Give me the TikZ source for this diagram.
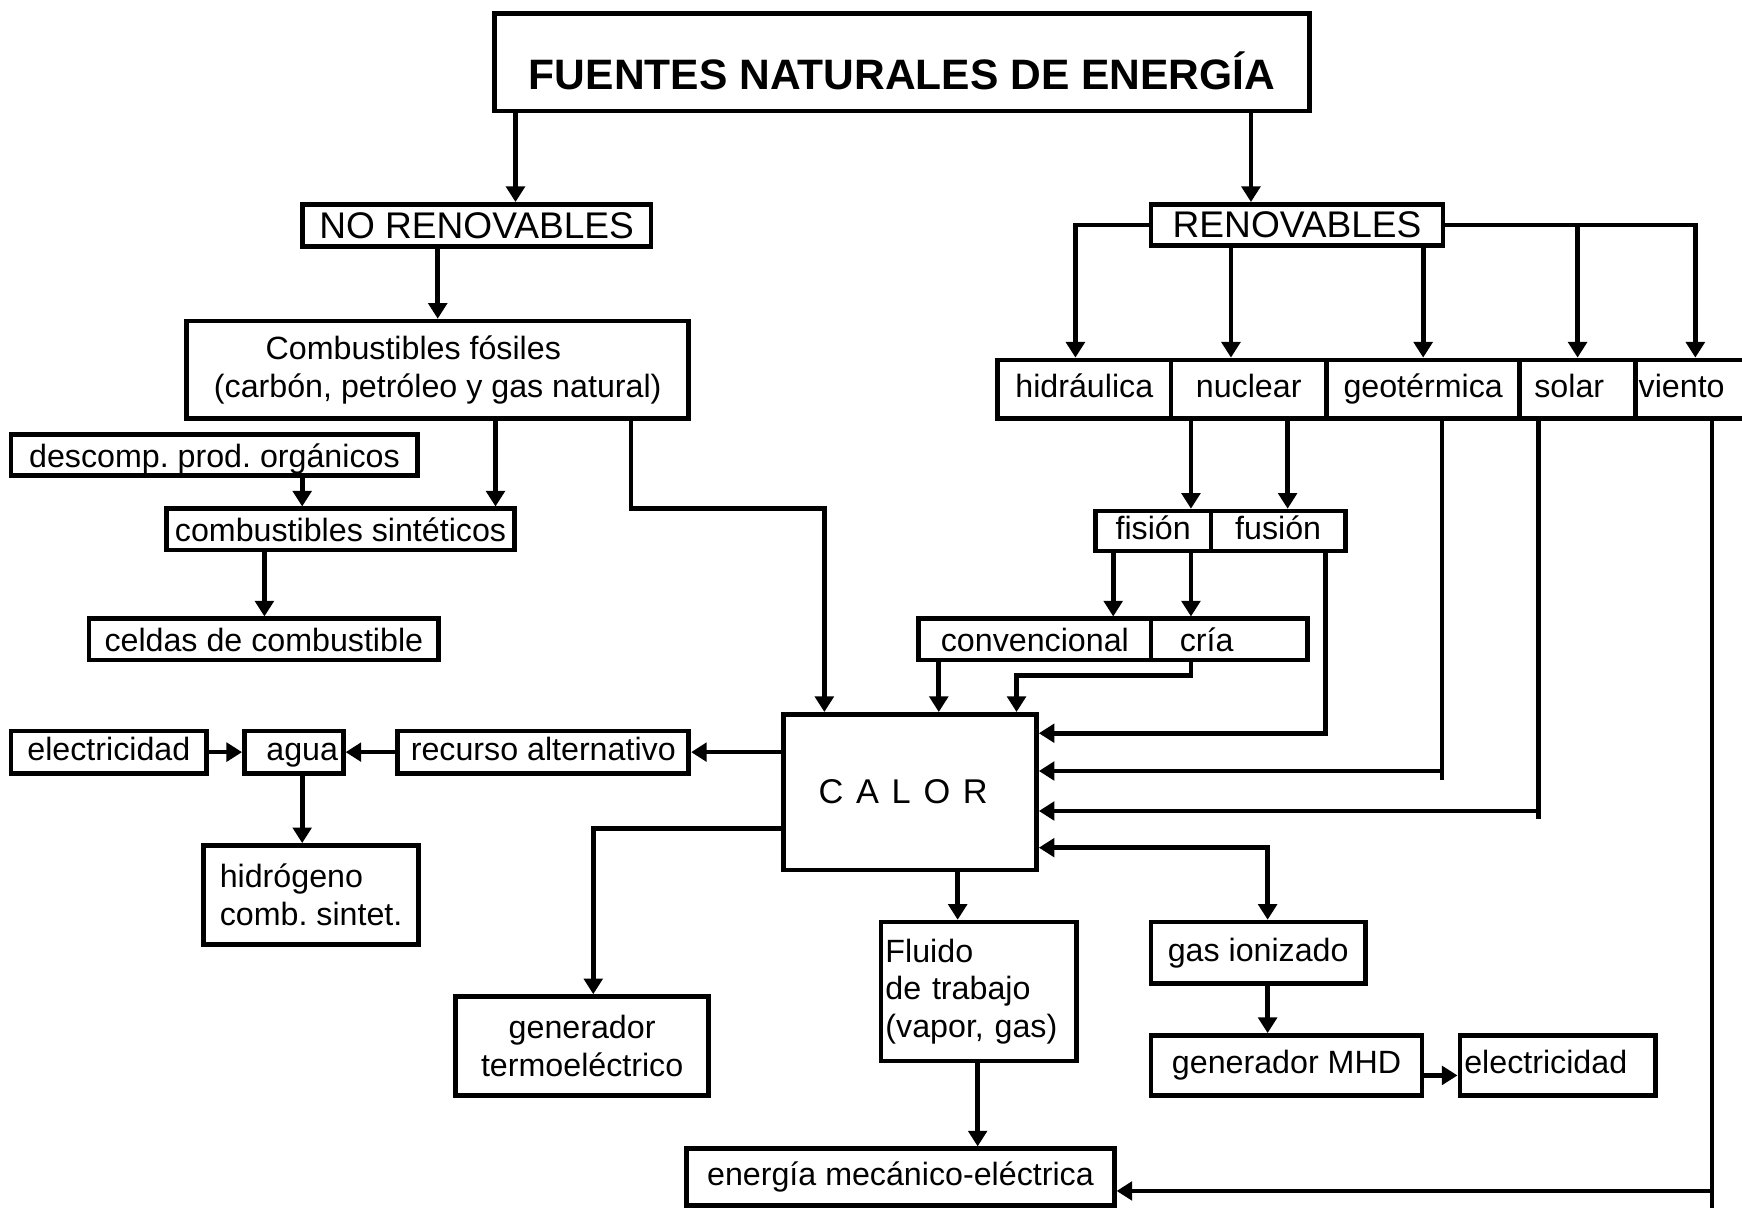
\documentclass[tikz,border=0pt]{standalone}
\usepackage{fontspec}
\setmainfont{Liberation Sans}
\usetikzlibrary{arrows.meta}
\frenchspacing

\newcommand{\txt}{\fontsize{16.5}{19.3}\selectfont}
\newcommand{\bigtxt}{\fontsize{19}{22}\selectfont}

\tikzset{
  box/.style={draw, line width=2.4pt, inner sep=0pt, font=\txt},
  sbox/.style={box, text height=11.9pt, text depth=3.3pt},
  lowbox/.style={box, text height=14pt, text depth=1.2pt},
  lbox/.style={box, align=left},
  arr/.style={line width=2.4pt, -{Triangle[length=8pt,width=9.5pt]}},
  darr/.style={line width=2.4pt, {Triangle[length=8pt,width=9.5pt]}-{Triangle[length=8pt,width=9.5pt]}},
}

\begin{document}
\begin{tikzpicture}[x=0.02cm, y=-0.02cm]
  \useasboundingbox (0,0) rectangle (1568,1087);

  \node[box, minimum width=14.68cm, minimum height=1.76cm, text height=1.05cm, text depth=.05cm, font=\fontsize{21.8}{24}\selectfont\bfseries] at (812,56) (fuentes) {FUENTES NATURALES DE ENERGÍA};

  \node[box, minimum width=6.28cm, minimum height=.76cm, font=\bigtxt] at (429,203) (norenov) {NO RENOVABLES};
  \node[box, minimum width=5.26cm, minimum height=.74cm, font=\bigtxt] at (1167.5,202.5) (renov) {RENOVABLES};
  \draw[arr] (fuentes.south -| 464,0) -- (norenov.north -| 464,0);
  \draw[arr] (fuentes.south -| 1126,0) -- (renov.north -| 1126,0);

  % no renovables
  \node[box, minimum width=9.04cm, minimum height=1.76cm, align=center] at (394,333) (fosiles) {Combustibles fósiles\hspace*{.88cm}\\(carbón, petróleo y gas natural)};
  \node[lowbox, minimum width=7.32cm, minimum height=.74cm] at (193,409.5) (descomp) {descomp. prod. orgánicos};
  \node[lowbox, minimum width=6.26cm, minimum height=.74cm] at (306.5,476.5) (sintet) {combustibles sintéticos};
  \node[lowbox, minimum width=6.3cm, minimum height=.74cm] at (237.5,575.5) (celdas) {celdas de combustible};
  \draw[arr] (norenov.south -| 394,0) -- (fosiles.north -| 394,0);
  \draw[arr] (fosiles.south -| 446,0) -- (sintet.north -| 446,0);
  \draw[arr] (descomp.south -| 272,0) -- (sintet.north -| 272,0);
  \draw[arr] (sintet.south -| 238,0) -- (celdas.north -| 238,0);

  \node[sbox, minimum width=3.52cm, minimum height=.76cm] at (98,677) (elec1) {electricidad};
  \node[sbox, minimum width=1.78cm, minimum height=.76cm] at (264.5,677) (agua) {\hspace*{.3cm}agua};
  \node[sbox, minimum width=5.24cm, minimum height=.76cm] at (489,677) (recurso) {recurso alternativo};
  \node[lbox, minimum width=3.88cm, minimum height=1.78cm] at (280,805.5) (hidrog) {hidrógeno\\comb. sintet.};
  \draw[arr] (elec1.east) -- (agua.west);
  \draw[arr] (recurso.west) -- (agua.east);
  \draw[arr] (agua.south -| 272,0) -- (hidrog.north -| 272,0);

  % calor
  \node[box, minimum width=4.56cm, minimum height=2.8cm, font=\fontsize{17.6}{20}\selectfont] at (819,713) (calor) {C\hspace{.37em}A\hspace{.37em}L\hspace{.37em}O\hspace{.37em}R\hspace*{.24cm}};
  \draw[arr] (fosiles.south -| 568,0) |- (742,458) -- (calor.north -| 742,0);
  \draw[arr] (calor.west |- recurso.east) -- (recurso.east);

  \node[box, minimum width=4.56cm, minimum height=1.78cm, align=center] at (524,941.5) (termo) {generador\\termoeléctrico};
  \node[lbox, text width=3.36cm, inner xsep=.08cm, minimum height=2.5cm] at (881,892.5) (fluido) {Fluido\\de trabajo\\(vapor, gas)};
  \node[sbox, minimum width=7.7cm, minimum height=1.02cm] at (810.5,1059.5) (energia) {energía mecánico-eléctrica};
  \node[sbox, minimum width=3.86cm, minimum height=1.1cm] at (1132.5,857.5) (gasion) {gas ionizado};
  \node[sbox, minimum width=4.88cm, minimum height=1.08cm] at (1158,959) (mhd) {generador MHD};
  \node[sbox, align=left, text width=3.36cm, inner xsep=.08cm, minimum height=1.08cm] at (1402,959) (elec2) {electricidad};
  \draw[arr] (calor.west |- 0,746) -| (termo.north -| 534,0);
  \draw[arr] (calor.south -| 862,0) -- (fluido.north -| 862,0);
  \draw[arr] (fluido.south -| 880,0) -- (energia.north -| 880,0);
  \draw[darr] (calor.east |- 0,763) -| (gasion.north -| 1141,0);
  \draw[arr] (gasion.south -| 1141,0) -- (mhd.north -| 1141,0);
  \draw[arr] (mhd.east |- 0,968) -- (elec2.west |- 0,968);

  % renovables
  \node[sbox, minimum width=3.12cm, minimum height=1.06cm] at (976,350.5) (hidraul) {hidráulica};
  \node[sbox, minimum width=2.8cm, minimum height=1.06cm] at (1124,350.5) (nuclear) {nuclear};
  \node[sbox, minimum width=3.48cm, minimum height=1.06cm] at (1281,350.5) (geoterm) {geotérmica};
  \node[sbox, minimum width=2.08cm, minimum height=1.06cm] at (1420,350.5) (solar) {solar\hspace*{.3cm}};
  \node[sbox, align=left, text width=2.44cm, inner xsep=.06cm, minimum height=1.06cm] at (1536,350.5) (viento) {viento};
  \draw[arr] (renov.west) -| (hidraul.north -| 968,0);
  \draw[arr] (renov.south -| 1108,0) -- (nuclear.north -| 1108,0);
  \draw[arr] (renov.south -| 1281,0) -- (geoterm.north -| 1281,0);
  \draw[arr] (renov.east) -| (viento.north -| 1526,0);
  \draw[arr] (renov.east -| 1420,0) -- (solar.north -| 1420,0);

  \node[sbox, minimum width=2.08cm, minimum height=.72cm] at (1038,478) (fision) {fisión};
  \node[sbox, minimum width=2.42cm, minimum height=.72cm] at (1150.5,478) (fusion) {fusión};
  \node[lowbox, minimum width=4.18cm, minimum height=.74cm] at (931.5,575.5) (conv) {convencional};
  \node[lowbox, align=left, text width=1.78cm, inner xsep=.52cm, minimum height=.74cm] at (1106.5,575.5) (cria) {cría};
  \draw[arr] (nuclear.south -| 1072,0) -- (fision.north -| 1072,0);
  \draw[arr] (nuclear.south -| 1159,0) -- (fusion.north -| 1159,0);
  \draw[arr] (fision.south -| 1002,0) -- (conv.north -| 1002,0);
  \draw[arr] (fision.south -| 1072,0) -- (cria.north -| 1072,0);
  \draw[arr] (conv.south -| 845,0) -- (calor.north -| 845,0);
  \draw[arr] (cria.south -| 1072,0) |- (915,608) -- (calor.north -| 915,0);

  % hacia calor
  \draw[arr] (fusion.south -| 1193,0) |- (calor.east |- 0,660);
  \draw[arr] (geoterm.south -| 1298,0) -- (1298,702) (1298,694) -- (calor.east |- 0,694);
  \draw[arr] (solar.south -| 1385,0) -- (1385,737) (1385,730) -- (calor.east |- 0,730);
  \draw[arr] (viento.south -| 1541,0) -- (1541,1090) (1541,1072) -- (energia.east |- 0,1072);
\end{tikzpicture}
\end{document}
